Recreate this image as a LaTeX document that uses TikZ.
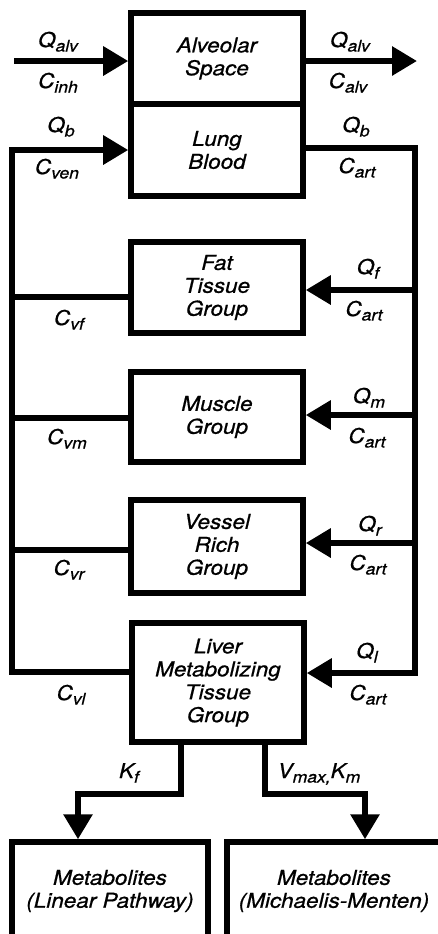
\documentclass[tikz,border=0pt]{standalone}
\usepackage{fontspec}
\setmainfont{TeX Gyre Heros}[FakeStretch=1.1,FakeBold=0.8]
\usetikzlibrary{arrows.meta}
\newcommand\sbx[1]{\raisebox{-4.5bp}{\fontsize{16}{16}\selectfont #1}}
\begin{document}
\begin{tikzpicture}[x=1bp,y=-1bp,
  box/.style={draw, line width=5.5bp, minimum width=172bp, align=center,
    font=\fontsize{20.5}{23}\selectfont\itshape, inner sep=0pt},
  ln/.style={line width=6bp, line join=miter},
  arr/.style={ln, -{Triangle[length=25bp,width=28bp]}},
  lab/.style={font=\fontsize{20.5}{23}\selectfont\itshape, inner sep=0pt, anchor=base}]
\useasboundingbox (0,0) rectangle (438,934);

% boxes
\node[box, minimum height=91bp] (alv) at (217,58.5) {Alveolar\\Space};
\node[box, minimum height=92bp] (lung) at (217,150) {Lung\\Blood};
\node[box, minimum height=91bp] (fat) at (217,287.5) {Fat\\Tissue\\Group};
\node[box, minimum height=90bp] (mus) at (217,417) {Muscle\\Group};
\node[box, minimum height=93bp] (ves) at (217,546.5) {Vessel\\Rich\\Group};
\node[box, minimum height=119bp] (liv) at (218,682.5) {Liver\\Metabolizing\\Tissue\\Group};
\node[box, minimum width=196bp, minimum height=98bp] (met1) at (110,891) {Metabolites\\(Linear Pathway)};
\node[box, minimum width=214bp, minimum height=98bp] (met2) at (334,891) {Metabolites\\(Michaelis-Menten)};

% coordinates
\coordinate (inA) at (14,61);
\coordinate (outA) at (417,61);
\coordinate (ltop) at (12,150);
\coordinate (lbot) at (12,672);
\coordinate (lf) at (12,297);
\coordinate (lm) at (12,418);
\coordinate (lv) at (12,550);
\coordinate (rtop) at (415,148);
\coordinate (rbot) at (415,673);
\coordinate (rf) at (415,290);
\coordinate (rm) at (415,415);
\coordinate (rv) at (415,543);
\coordinate (b1) at (181,794);
\coordinate (b2) at (78,794);
\coordinate (c1) at (265,794);
\coordinate (c2) at (365,794);

% connectors
\draw[arr] (inA) -- (inA -| alv.west);
\draw[arr] (alv.east |- outA) -- (outA);
\draw[arr] (liv.west |- lbot) -- (lbot) -- (ltop) -- (ltop -| lung.west);
\draw[ln] (fat.west |- lf) -- (lf);
\draw[ln] (mus.west |- lm) -- (lm);
\draw[ln] (ves.west |- lv) -- (lv);
\draw[arr] (lung.east |- rtop) -- (rtop) -- (rbot) -- (rbot -| liv.east);
\draw[arr] (rf) -- (rf -| fat.east);
\draw[arr] (rm) -- (rm -| mus.east);
\draw[arr] (rv) -- (rv -| ves.east);
\draw[arr] (liv.south -| b1) -- (b1) -- (b2) -- (b2 |- met1.north);
\draw[arr] (liv.south -| c1) -- (c1) -- (c2) -- (c2 |- met2.north);

% labels
\node[lab] (l1) at (58,47) {Q\sbx{alv}};
\node[lab] (l2) at (58,88) {C\sbx{inh}};
\node[lab] (l3) at (350,47) {Q\sbx{alv}};
\node[lab] (l4) at (348,88) {C\sbx{alv}};
\node[lab] (l5) at (61,132) {Q\sbx{b}};
\node[lab] (l6) at (57,174) {C\sbx{ven}};
\node[lab] (l7) at (356,132) {Q\sbx{b}};
\node[lab] (l8) at (357,173) {C\sbx{art}};
\node[lab] (l9) at (368,274) {Q\sbx{f}};
\node[lab] (l10) at (364,316) {C\sbx{art}};
\node[lab] (l11) at (69,325) {C\sbx{vf}};
\node[lab] (l12) at (369,403) {Q\sbx{m}};
\node[lab] (l13) at (367,443) {C\sbx{art}};
\node[lab] (l14) at (67,444) {C\sbx{vm}};
\node[lab] (l15) at (370,531) {Q\sbx{r}};
\node[lab] (l16) at (368,570) {C\sbx{art}};
\node[lab] (l17) at (69,575) {C\sbx{vr}};
\node[lab] (l18) at (367,658) {Q\sbx{l}};
\node[lab] (l19) at (368,700) {C\sbx{art}};
\node[lab] (l20) at (71,700) {C\sbx{vl}};
\node[lab] (l21) at (129,778) {K\sbx{f}};
\node[lab] (l22) at (319,778) {V\sbx{max,}K\sbx{m}};
\end{tikzpicture}
\end{document}
